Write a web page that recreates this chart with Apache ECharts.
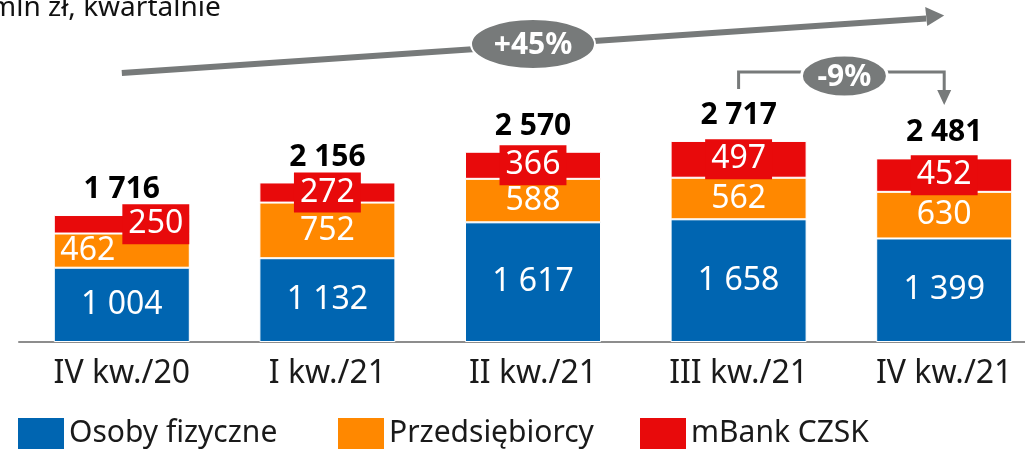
<!DOCTYPE html>
<html>
<head>
<meta charset="utf-8">
<script src="https://cdn.jsdelivr.net/npm/echarts@6/dist/echarts.min.js"></script>
<style>html,body{margin:0;padding:0;background:#fff;}#c{width:1025px;height:450px;}</style>
</head>
<body>
<div id="c"></div>
<script>
var categories = ['IV kw./20', 'I kw./21', 'II kw./21', 'III kw./21', 'IV kw./21'];
var osobyFizyczne = [1004, 1132, 1617, 1658, 1399];
var przedsiebiorcy = [462, 752, 588, 562, 630];
var mBankCZSK = [250, 272, 366, 497, 452];
var totals = [1716, 2156, 2570, 2717, 2481];
var seriesNames = ['Osoby fizyczne', 'Przedsiębiorcy', 'mBank CZSK'];

var BLUE = '#0065b1', ORANGE = '#ff8800', RED = '#e80a0b', GRAY = '#777a7a';
var FONT = 'Noto Sans';
function fmt(v) { return String(v).replace(/\B(?=(\d{3})+(?!\d))/g, ' '); }

var chart = echarts.init(document.getElementById('c'), null, {renderer: 'canvas'});

function segLabel(extra) {
  var l = {show: true, position: 'inside', color: '#fff', fontSize: 32, fontFamily: FONT,
    formatter: function (p) { return fmt(p.value); }};
  for (var k in extra) l[k] = extra[k];
  return l;
}

var option = {
  animation: false,
  backgroundColor: '#fff',
  grid: {left: 19, right: -22, top: 46, bottom: 108, containLabel: false, outerBoundsMode: 'none'},
  xAxis: {
    type: 'category', data: categories,
    axisLine: {lineStyle: {color: '#8d8d8d', width: 2}},
    axisTick: {show: false},
    axisLabel: {fontSize: 32, color: '#1a1a1a', fontFamily: FONT, margin: 16}
  },
  yAxis: {type: 'value', min: 0, max: 4000, show: false, splitLine: {show: false}},
  legend: [0, 1, 2].map(function (i) {
    return {
      data: [seriesNames[i]], left: [18, 338, 640][i], top: 418,
      itemWidth: 46, itemHeight: 31, icon: 'rect', padding: 0,
      itemStyle: {borderWidth: 0},
      textStyle: {fontSize: 30, color: '#1a1a1a', fontFamily: FONT}
    };
  }),
  series: [
    {
      name: seriesNames[0], type: 'bar', stack: 'a', barWidth: 136,
      itemStyle: {color: BLUE, borderColor: '#fff', borderWidth: 1},
      label: segLabel({}),
      data: osobyFizyczne
    },
    {
      name: seriesNames[1], type: 'bar', stack: 'a', barWidth: 136,
      itemStyle: {color: ORANGE, borderColor: '#fff', borderWidth: 1},
      label: segLabel({}),
      data: przedsiebiorcy.map(function (v, i) {
        return i === 0 ? {value: v, label: {offset: [-34, 0]}} : v;
      })
    },
    {
      name: seriesNames[2], type: 'bar', stack: 'a', barWidth: 136,
      itemStyle: {color: RED, borderColor: '#fff', borderWidth: 1},
      label: segLabel({backgroundColor: RED, padding: [2, 6, 1, 6], lineHeight: 37}),
      data: mBankCZSK.map(function (v, i) {
        return i === 0 ? {value: v, label: {offset: [34, 0]}} : v;
      })
    },
    {
      name: 'Suma', type: 'scatter', symbolSize: 1, silent: true,
      itemStyle: {color: 'rgba(255,255,255,0)'},
      labelLayout: {hideOverlap: false},
      label: {show: true, position: 'top', distance: 10, fontSize: 30, fontWeight: 'bold', opacity: 1,
        color: '#000', fontFamily: FONT, formatter: function (p) { return fmt(p.value); }},
      data: totals
    }
  ]
};
chart.setOption(option);

var cx = categories.map(function (c, i) { return chart.convertToPixel({xAxisIndex: 0}, i); });

chart.setOption({
  graphic: [
    {type: 'text', left: -10, top: -6, style: {text: 'mln zł, kwartalnie', fontSize: 28, fontFamily: FONT, fill: '#111'}},
    {type: 'polyline', shape: {points: [[cx[0], 73], [cx[4] - 18, 18.5]]}, style: {stroke: GRAY, lineWidth: 6, fill: null}},
    {type: 'polygon', shape: {points: [[cx[4] - 19, 7], [cx[4], 15.5], [cx[4] - 17, 26]]}, style: {fill: GRAY}},
    {type: 'ellipse', shape: {cx: cx[2], cy: 44, rx: 62, ry: 25}, style: {fill: GRAY, stroke: '#fff', lineWidth: 2}},
    {type: 'text', x: cx[2], y: 45, style: {text: '+45%', fontSize: 30, fontWeight: 'bold', fill: '#fff', fontFamily: FONT, align: 'center', verticalAlign: 'middle'}},
    {type: 'polyline', shape: {points: [[cx[3], 89], [cx[3], 72], [cx[4], 72], [cx[4], 92]]}, style: {stroke: GRAY, lineWidth: 3, fill: null}},
    {type: 'polygon', shape: {points: [[cx[4] - 7, 90], [cx[4] + 7, 90], [cx[4], 105]]}, style: {fill: GRAY}},
    {type: 'ellipse', shape: {cx: (cx[3] + cx[4]) / 2 + 3, cy: 76, rx: 43, ry: 21}, style: {fill: GRAY, stroke: '#fff', lineWidth: 3}},
    {type: 'text', x: (cx[3] + cx[4]) / 2 + 3, y: 77, style: {text: '-9%', fontSize: 30, fontWeight: 'bold', fill: '#fff', fontFamily: FONT, align: 'center', verticalAlign: 'middle'}}
  ]
});
</script>
</body>
</html>
